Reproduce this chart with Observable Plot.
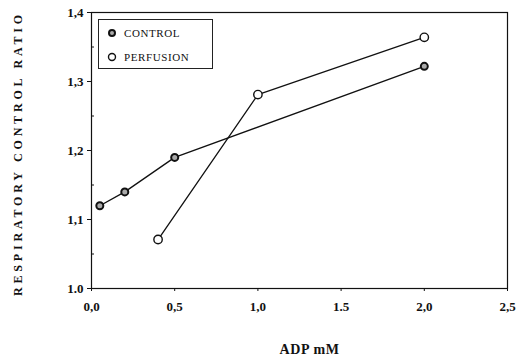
<!DOCTYPE html>
<html><head><meta charset="utf-8">
<script src="https://cdn.jsdelivr.net/npm/d3@7"></script>
<script src="https://cdn.jsdelivr.net/npm/@observablehq/plot@0.6"></script>
<style>
body{margin:0;background:#fff}
#wrap{position:relative;width:516px;height:362px;font-family:"Liberation Serif",serif}
#legend{position:absolute;left:98px;top:19px;width:113px;height:48px;border:1px solid #222;background:#fff;box-sizing:content-box}
.item{position:absolute;left:8px;font-family:"Liberation Serif",serif;font-size:11px;color:#111;letter-spacing:0.6px;display:flex;align-items:center}
.item svg{margin-right:7px}
</style>
</head><body><div id="wrap"></div>
<script>
const seriesNames = ["CONTROL", "PERFUSION"];
const controlX = [0.05, 0.2, 0.5, 2.0];
const controlY = [1.12, 1.14, 1.19, 1.322];
const perfusionX = [0.4, 1.0, 2.0];
const perfusionY = [1.071, 1.281, 1.364];
const xTicks = [0, 0.5, 1, 1.5, 2, 2.5];
const xTickLabels = ["0,0", "0,5", "1,0", "1.5", "2,0", "2,5"];
const yTicks = [1.0, 1.1, 1.2, 1.3, 1.4];
const yTickLabels = ["1.0", "1,1", "1,2", "1,3", "1,4"];
const yMinor = [1.05, 1.15, 1.25, 1.35];
const xLabel = "ADP mM";
const yLabel = "RESPIRATORY CONTROL RATIO";

const control = controlX.map((x, i) => ({x, y: controlY[i]}));
const perfusion = perfusionX.map((x, i) => ({x, y: perfusionY[i]}));

const chart = Plot.plot({
  width: 516, height: 362,
  marginLeft: 91, marginRight: 9, marginTop: 12, marginBottom: 74,
  style: {fontFamily: "'Liberation Serif', serif", fontSize: "13px", fontWeight: "bold", color: "#111", background: "#fff"},
  x: {domain: [0, 2.5]},
  y: {domain: [1.0, 1.4]},
  marks: [
    Plot.frame({stroke: "#111", strokeWidth: 1.2}),
    Plot.axisY(yTicks, {tickSize: 4, tickPadding: 4, tickFormat: d => yTickLabels[yTicks.indexOf(d)], label: null, fontSize: 13}),
    Plot.axisY(yMinor, {tickSize: -3, text: null, label: null}),
    Plot.axisX(xTicks, {tickSize: 3, tickPadding: 10, tickFormat: d => xTickLabels[xTicks.indexOf(d)], label: null, fontSize: 13}),
    Plot.line(control, {x: "x", y: "y", stroke: "#111", strokeWidth: 1.3}),
    Plot.line(perfusion, {x: "x", y: "y", stroke: "#111", strokeWidth: 1.3}),
    Plot.dot(control, {x: "x", y: "y", r: 3.5, fill: "#aaa", stroke: "#111", strokeWidth: 2}),
    Plot.dot(perfusion, {x: "x", y: "y", r: 4.2, fill: "#fff", stroke: "#111", strokeWidth: 1.4}),
    Plot.text([yLabel], {text: d => d, frameAnchor: "left", textAnchor: "middle", rotate: -90, dx: -73, dy: 3, fontSize: 12, fontWeight: "bold"}),
    Plot.text([xLabel], {text: d => d, frameAnchor: "bottom", dy: 65, dx: 10, fontSize: 14, fontWeight: "bold"})
  ]
});
const sel = d3.select(chart).selectAll("text");
sel.filter(function(){ return this.textContent === yLabel; }).style("letter-spacing", "3.8px");
sel.filter(function(){ return this.textContent === xLabel; }).style("letter-spacing", "0.6px");

const wrap = document.getElementById("wrap");
wrap.appendChild(chart);
const legend = document.createElement("div");
legend.id = "legend";
const markers = [
  '<svg width="10" height="10"><circle cx="5" cy="5" r="3" fill="#aaa" stroke="#111" stroke-width="2"/></svg>',
  '<svg width="10" height="10"><circle cx="5" cy="5" r="3.5" fill="#fff" stroke="#111" stroke-width="1.4"/></svg>'
];
seriesNames.forEach((name, i) => {
  const it = document.createElement("div");
  it.className = "item";
  it.style.top = (i === 0 ? 7 : 31) + "px";
  it.innerHTML = markers[i] + "<span>" + name + "</span>";
  legend.appendChild(it);
});
wrap.appendChild(legend);
</script>
</body></html>
